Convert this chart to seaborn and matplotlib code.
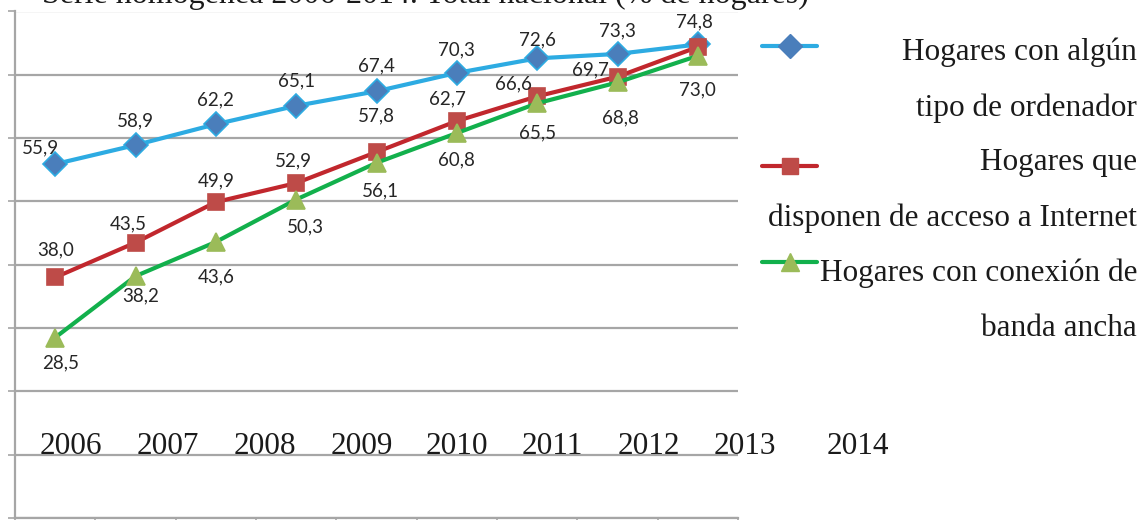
import pandas as pd
import matplotlib
matplotlib.use('Agg')
import matplotlib.pyplot as plt
from matplotlib.lines import Line2D
import seaborn as sns

# Datos: serie homogénea 2006-2014, total nacional (% de hogares)
years = [2006, 2007, 2008, 2009, 2010, 2011, 2012, 2013, 2014]
ordenador = [55.9, 58.9, 62.2, 65.1, 67.4, 70.3, 72.6, 73.3, 74.8]
internet = [38.0, 43.5, 49.9, 52.9, 57.8, 62.7, 66.6, 69.7, 74.4]
banda_ancha = [28.5, 38.2, 43.6, 50.3, 56.1, 60.8, 65.5, 68.8, 73.0]
series_names = ['Hogares con algún\ntipo de ordenador',
                'Hogares que\ndisponen de acceso a Internet',
                'Hogares con conexión de\nbanda ancha']
title = 'Serie homogénea 2006-2014. Total nacional (% de hogares)'

W, H = 1143, 520

# estilos
line_colors = ['#2DABE2', '#C1272D', '#12B04C']
face_colors = ['#4A7EBB', '#BE4B48', '#9BBB59']
markers = ['D', 's', '^']
msizes = [12, 11, 13]
grid_col = '#A6A6A6'
serif = 'Liberation Serif'

# desplazamientos de las etiquetas (pixeles)
off_ord = [(-15, 16), (0, 24), (0, 24), (0, 25), (0, 25), (0, 23), (0, 18), (0, 23), (-3, 23)]
off_int = [(0, 28), (-7, 19), (0, 21), (-3, 22), (0, 36), (-9, 22), (-24, 12), (-27, 7), None]
off_ban = [(5, -25), (5, -20), (0, -35), (9, -27), (4, -28), (0, -27), (0, -30), (3, -35), (0, -34)]

df = pd.DataFrame({
    'year': years * 3,
    'valor': ordenador + internet + banda_ancha,
    'serie': [series_names[0]] * 9 + [series_names[1]] * 9 + [series_names[2]] * 9,
})

sns.set_style('white')
fig = plt.figure(figsize=(W / 100, H / 100), dpi=100)
ax = fig.add_axes([15 / W, 2 / H, (738 - 15) / W, (518 - 9.5 - 2) / H])

sns.lineplot(data=df, x='year', y='valor', hue='serie', style='serie',
             hue_order=series_names, style_order=series_names,
             palette=dict(zip(series_names, line_colors)),
             markers=dict(zip(series_names, markers)), dashes=False,
             linewidth=3, legend=False, ax=ax)

for ln, fc, lc, ms in zip(ax.lines, face_colors, line_colors, msizes):
    ln.set_markerfacecolor(fc)
    ln.set_markeredgecolor(lc if fc == '#4A7EBB' else fc)
    ln.set_markeredgewidth(1.2)
    ln.set_markersize(ms)

ax.set_xlim(2005.5, 2014.5)
ax.set_ylim(0, 80)
ax.set_yticks(range(0, 81, 10))
ax.set_yticklabels([])
ax.set_xticks([y + 0.5 for y in years[:-1]] + [2005.5, 2014.5])
ax.set_xticklabels([])
ax.set_xlabel('')
ax.set_ylabel('')
ax.yaxis.grid(True, color=grid_col, linewidth=1.6)
ax.xaxis.grid(False)
ax.tick_params(axis='y', direction='out', length=5, width=1.2, color=grid_col, left=True)
ax.tick_params(axis='x', direction='out', length=5, width=1.2, color=grid_col, bottom=True)
for s in ['top', 'right']:
    ax.spines[s].set_visible(False)
for s in ['left', 'bottom']:
    ax.spines[s].set_color(grid_col)
    ax.spines[s].set_linewidth(1.6)

# etiquetas de datos
def fmt(v):
    return f'{v:.1f}'.replace('.', ',')

for vals, offs in [(ordenador, off_ord), (internet, off_int), (banda_ancha, off_ban)]:
    for yr, v, o in zip(years, vals, offs):
        if o is None:
            continue
        ax.annotate(fmt(v), (yr, v), xytext=o, textcoords='offset pixels',
                    ha='center', va='center', fontsize=13.5, family='Lato',
                    color='#262626', annotation_clip=False)

# años (desplazados como en el original)
year_px = [71, 168, 265, 362, 457, 552, 649, 745, 858]
for yr, px in zip(years, year_px):
    fig.text(px / W, 1 - 454 / H, str(yr), ha='center', va='baseline',
             fontsize=22.5, family=serif, color='#1a1a1a')

# titulo recortado arriba
fig.text(42 / W, 1 - 3 / H, title, ha='left', va='baseline',
         fontsize=23, family=serif, color='#1a1a1a')

# leyenda (baseline de la ultima linea de cada entrada)
leg_y = [46, 166, 262]
txt_base = [116, 226, 336]
for name, lc, fc, mk, ms, hy, ty in zip(series_names, line_colors, face_colors,
                                        markers, msizes, leg_y, txt_base):
    h = Line2D([762 / W, 789.5 / W, 817 / W], [1 - hy / H] * 3,
               transform=fig.transFigure, color=lc, linewidth=3,
               marker=mk, markevery=[1], markersize=ms,
               markerfacecolor=fc, markeredgecolor=fc)
    fig.add_artist(h)
    fig.text(1137 / W, 1 - ty / H, name, ha='right', va='baseline',
             multialignment='right', linespacing=2.19,
             fontsize=22.5, family=serif, color='#1a1a1a')

fig.savefig('out.png', dpi=100)
